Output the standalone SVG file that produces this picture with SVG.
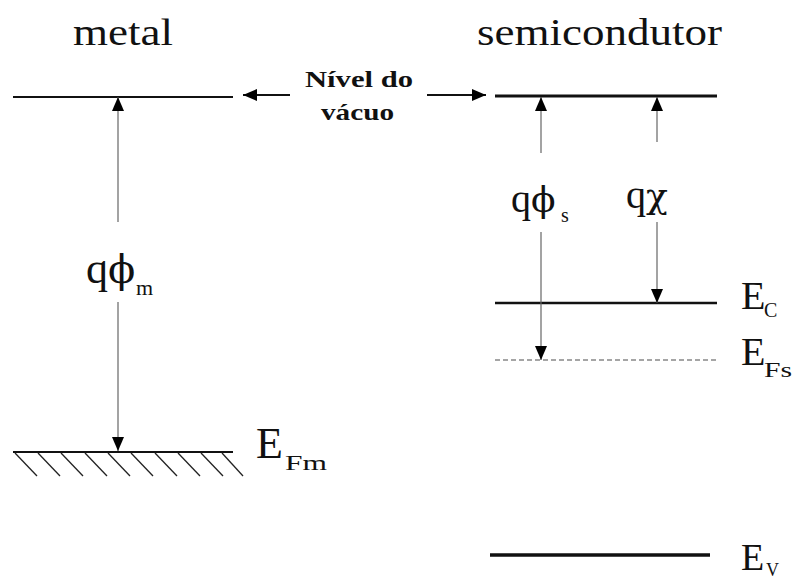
<svg xmlns="http://www.w3.org/2000/svg" width="792" height="580" viewBox="0 0 792 580">
<defs>
<marker id="ah" viewBox="0 0 14 12" refX="14" refY="6" markerWidth="14" markerHeight="12" markerUnits="userSpaceOnUse" orient="auto">
<path d="M0,0 L14,6 L0,12 Z" fill="#000"/>
</marker>
</defs>
<style>
.t{font-family:"Liberation Serif","Times New Roman",serif;fill:#111}
.g{font-family:"DejaVu Serif","Liberation Serif",serif}
.b{font-weight:bold}
.lvl{stroke:#111;fill:none}
.vec{stroke:#666;stroke-width:1.2;fill:none}
.lbl{stroke:#111;stroke-width:1.8;fill:none}
.hatch{stroke:#222;stroke-width:1.3}
</style>
<rect width="792" height="580" fill="#fff"/>
<g id="titles">
<text class="t" x="73" y="45" font-size="38" textLength="100" lengthAdjust="spacingAndGlyphs">metal</text>
<text class="t" x="477" y="45" font-size="38" textLength="245" lengthAdjust="spacingAndGlyphs">semicondutor</text>
</g>
<g id="metal-vacuum"><line class="lvl" x1="13" y1="97" x2="233" y2="97" stroke-width="2"/></g>
<g id="semi-vacuum"><line class="lvl" x1="495" y1="96" x2="717" y2="96" stroke-width="3"/></g>
<g id="vacuum-label">
<text class="t b" x="305" y="87" font-size="24" textLength="108" lengthAdjust="spacingAndGlyphs">Nível do</text>
<text class="t b" x="321" y="120" font-size="24" textLength="73" lengthAdjust="spacingAndGlyphs">vácuo</text>
</g>
<g id="EFm">
<line class="lvl" x1="13" y1="452" x2="233" y2="452" stroke-width="2.2"/>
<g class="hatch">
<line x1="15" y1="453" x2="37" y2="476"/>
<line x1="38" y1="453" x2="60" y2="476"/>
<line x1="61" y1="453" x2="83" y2="476"/>
<line x1="85" y1="453" x2="107" y2="476"/>
<line x1="108" y1="453" x2="130" y2="476"/>
<line x1="131" y1="453" x2="153" y2="476"/>
<line x1="155" y1="453" x2="177" y2="476"/>
<line x1="178" y1="453" x2="200" y2="476"/>
<line x1="201" y1="453" x2="223" y2="476"/>
<line x1="222" y1="453" x2="243" y2="476"/>
</g>
<text class="t" x="256" y="458" font-size="44">E</text>
<text class="t" x="285" y="470" font-size="22" textLength="42" lengthAdjust="spacingAndGlyphs">Fm</text>
</g>
<g id="Ec">
<line class="lvl" x1="495" y1="303" x2="717" y2="303" stroke-width="2.5"/>
<text class="t" x="741" y="309" font-size="40">E</text>
<text class="t" x="764" y="317" font-size="20">C</text>
</g>
<g id="EFs">
<line x1="495" y1="360" x2="717" y2="360" stroke="#888" stroke-width="1.4" stroke-dasharray="5,3"/>
<text class="t" x="741" y="365" font-size="40">E</text>
<text class="t" x="764" y="377" font-size="20" textLength="28" lengthAdjust="spacingAndGlyphs">Fs</text>
</g>
<g id="Ev">
<line class="lvl" x1="490" y1="555" x2="710" y2="555" stroke-width="3.5"/>
<text class="t" x="741" y="570" font-size="38">E</text>
<text class="t" x="766" y="576" font-size="18">V</text>
</g>
<g id="qphim">
<text class="t" x="86" y="283" font-size="44">q<tspan class="g" font-size="40">ϕ</tspan></text>
<text class="t" x="136" y="295" font-size="22">m</text>
</g>
<g id="qphis">
<text class="t" x="511" y="212" font-size="40">q<tspan class="g" font-size="36">ϕ</tspan></text>
<text class="t" x="561" y="222" font-size="20">s</text>
</g>
<g id="qchi">
<text class="t" x="626" y="208" font-size="40">q<tspan class="g" font-size="36">χ</tspan></text>
</g>
<g id="connectors">
<line class="lbl" x1="290" y1="95" x2="243" y2="95" marker-end="url(#ah)"/>
<line class="lbl" x1="427" y1="95" x2="486" y2="95" marker-end="url(#ah)"/>
<line class="vec" x1="118" y1="222" x2="118" y2="97" marker-end="url(#ah)"/>
<line class="vec" x1="118" y1="302" x2="118" y2="451" marker-end="url(#ah)"/>
<line class="vec" x1="541" y1="153" x2="541" y2="97" marker-end="url(#ah)"/>
<line class="vec" x1="541" y1="232" x2="541" y2="360" marker-end="url(#ah)"/>
<line class="vec" x1="657" y1="142" x2="657" y2="97" marker-end="url(#ah)"/>
<line class="vec" x1="657" y1="222" x2="657" y2="303" marker-end="url(#ah)"/>
</g>
</svg>
